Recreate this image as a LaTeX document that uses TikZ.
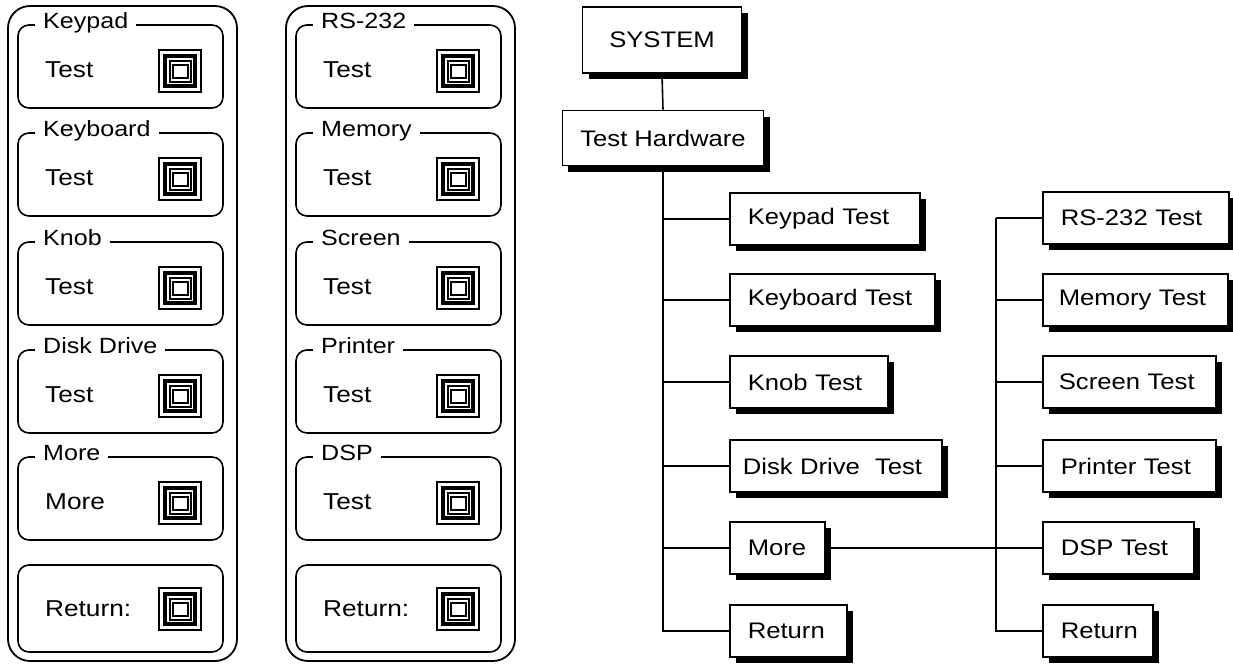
\documentclass[tikz,border=0pt]{standalone}
\usepackage{fontspec}
\setmainfont{Liberation Sans}[FakeStretch=1.14]
\usetikzlibrary{shadows}

\tikzset{
  panel/.style={draw, line width=1.8pt, rounded corners=22pt},
  pbox/.style={draw, line width=1.6pt, rounded corners=11pt},
  phead/.style={fill=white, inner xsep=8pt, inner ysep=2pt, anchor=base west, font=\fontsize{22}{24}\selectfont},
  ptext/.style={inner xsep=5pt, anchor=west, font=\fontsize{23}{26}\selectfont},
  tbox/.style={draw, line width=1.6pt, fill=white, minimum height=52pt, inner xsep=18pt, inner ysep=0pt,
    anchor=west, align=left, font=\fontsize{22.5}{26}\selectfont,
    drop shadow={shadow xshift=6pt, shadow yshift=-6pt, opacity=1, fill=black}},
  hbox/.style={tbox, anchor=center, align=center},
  link/.style={line width=1.6pt},
  button/.pic={
    \draw[line width=1.4pt] (-21,-21) rectangle (21,21);
    \draw[line width=3.6pt] (-15,-15) rectangle (15,15);
    \draw[line width=1.2pt] (-10,-10) rectangle (11,11);
    \draw[line width=1.2pt, fill=white] (-7,-6) rectangle (8,7);
  }
}

\begin{document}
\begin{tikzpicture}[x=1pt, y=-1pt]
  \useasboundingbox (0,0) rectangle (1233,665);

  % left panel
  \draw[panel] (8,6) rectangle (237,661);
  \foreach \top/\head/\body [count=\i] in {25/Keypad/Test, 133/Keyboard/Test, 242/Knob/Test, 350/Disk Drive/Test, 457/More/More}{
    \draw[pbox] (18,\top) rectangle (223,\top+83);
    \node[phead] (la\i) at (35,\top+3) {\head};
    \node[ptext] (ta\i) at (40,\top+45) {\body};
    \pic at (180,\top+46) {button};
  }
  \draw[pbox] (18,565) rectangle (223,652);
  \node[ptext] (reta) at (40,609) {Return:};
  \pic at (180,609) {button};

  % right panel
  \draw[panel] (286,6) rectangle (515,661);
  \foreach \top/\head/\body [count=\i] in {25/RS-232/Test, 133/Memory/Test, 242/Screen/Test, 350/Printer/Test, 457/DSP/Test}{
    \draw[pbox] (296,\top) rectangle (501,\top+83);
    \node[phead] (lb\i) at (313,\top+3) {\head};
    \node[ptext] (tb\i) at (318,\top+45) {\body};
    \pic at (458,\top+46) {button};
  }
  \draw[pbox] (296,565) rectangle (501,652);
  \node[ptext] (retb) at (318,609) {Return:};
  \pic at (458,609) {button};

  % menu tree
  \node[hbox, minimum width=159pt, minimum height=66pt] (sys) at (662,40) {SYSTEM};
  \node[hbox, minimum width=192pt, minimum height=55pt] (hw) at (663,138) {Test Hardware};

  \node[tbox, text width=154pt] (kp) at (729,219) {Keypad Test};
  \node[tbox, text width=169pt] (kb) at (729,300) {Keyboard Test};
  \node[tbox, text width=122pt] (kn) at (729,382) {Knob Test};
  \node[tbox, inner xsep=13pt, text width=186pt] (dd) at (729,466) {Disk Drive~ Test};
  \node[tbox, text width=59pt] (mo) at (729,548) {More};
  \node[tbox, text width=81pt] (ra) at (729,631) {Return};

  \node[tbox, text width=150pt] (rs) at (1042,218) {RS-232 Test};
  \node[tbox, inner xsep=16pt, text width=153pt] (me) at (1042,300) {Memory Test};
  \node[tbox, inner xsep=16pt, text width=141pt] (sc) at (1042,382) {Screen Test};
  \node[tbox, text width=137pt] (pr) at (1042,466) {Printer Test};
  \node[tbox, text width=115pt] (ds) at (1042,548) {DSP Test};
  \node[tbox, text width=74pt] (rb) at (1042,631) {Return};

  \draw[link] (sys.south) -- (hw.north);
  \draw[link] (hw.south) |- (ra.west);
  \foreach \n in {kp,kb,kn,dd,mo}
    \draw[link] (hw.south |- \n.west) -- (\n.west);

  \coordinate (bus) at (996,0);
  \draw[link] (bus |- rs.west) |- (rb.west);
  \foreach \n in {rs,me,sc,pr,ds}
    \draw[link] (bus |- \n.west) -- (\n.west);
  \draw[link] (mo.east) -- (ds.west);
\end{tikzpicture}
\end{document}
